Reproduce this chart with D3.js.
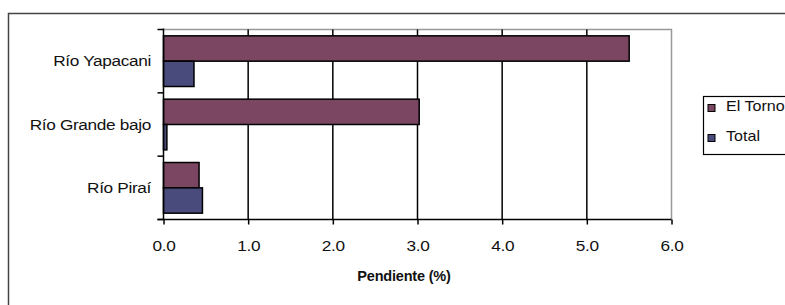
<!DOCTYPE html>
<html>
<head>
<meta charset="utf-8">
<script src="https://cdn.jsdelivr.net/npm/d3@7"></script>
<style>
  body { margin: 0; background: #fff; }
  svg { display: block; font-family: "Liberation Sans", Arial, sans-serif; }
</style>
</head>
<body>
<svg width="785" height="305"></svg>
<script>
// data
var categories = ["Río Yapacani", "Río Grande bajo", "Río Piraí"];
var seriesNames = ["El Torno", "Total"];
var elTorno = [5.50, 3.02, 0.42];
var total = [0.36, 0.04, 0.46];
var xTicks = [0, 1, 2, 3, 4, 5, 6];
var colors = ["#7a4662", "#494b7c"];

var svg = d3.select("svg");
var plotL = 163.5, plotR = 671.5, plotT = 29.5, plotB = 219.5;
var sx = 1.15; // glyphs in the picture look stretched wide

// outer chart border
svg.append("rect")
    .attr("x", 8.5).attr("y", 13.5)
    .attr("width", 800).attr("height", 320)
    .attr("fill", "none").attr("stroke", "#444").attr("stroke-width", 1.5);

var x = d3.scaleLinear().domain([0, 6]).range([plotL, plotR]);
var y = d3.scaleBand().domain(categories).range([plotT, plotB])
    .paddingInner(0.2).paddingOuter(0.1);
var ySub = d3.scaleBand().domain(seriesNames).range([0, y.bandwidth()]);

// plot frame top / right in grey
svg.append("path")
    .attr("d", "M" + plotL + "," + plotT + "H" + plotR + "V" + plotB)
    .attr("fill", "none").attr("stroke", "#999").attr("stroke-width", 1.5);

// vertical gridlines
svg.selectAll(".grid").data(xTicks.slice(1, -1)).enter().append("line")
    .attr("x1", function(d){ return x(d); }).attr("x2", function(d){ return x(d); })
    .attr("y1", plotT).attr("y2", plotB)
    .attr("stroke", "#000").attr("stroke-width", 1.5);

// bars
var rows = categories.map(function(c, i){
    return { cat: c, values: [elTorno[i], total[i]] };
});
var g = svg.selectAll(".row").data(rows).enter().append("g")
    .attr("transform", function(d){ return "translate(0," + y(d.cat) + ")"; });
g.selectAll("rect").data(function(d){
        return d.values.map(function(v, j){ return { name: seriesNames[j], v: v, j: j }; });
    }).enter().append("rect")
    .attr("x", x(0))
    .attr("y", function(d){ return ySub(d.name); })
    .attr("width", function(d){ return x(d.v) - x(0); })
    .attr("height", ySub.bandwidth())
    .attr("fill", function(d){ return colors[d.j]; })
    .attr("stroke", "#000").attr("stroke-width", 1.5);

// bottom axis
var xAxis = svg.append("g")
    .attr("transform", "translate(0," + plotB + ")")
    .call(d3.axisBottom(x).tickValues(xTicks).tickFormat(d3.format(".1f"))
        .tickSize(5).tickSizeOuter(0));
xAxis.select(".domain").attr("stroke", "#000").attr("stroke-width", 1.5)
    .attr("d", "M" + (plotL - 6) + ",0H" + plotR);
xAxis.selectAll(".tick line").attr("stroke", "#000").attr("stroke-width", 1.5);
xAxis.selectAll(".tick text")
    .attr("font-size", 15).attr("fill", "#111").attr("y", 0).attr("dy", 0)
    .attr("transform", "translate(0,31) scale(" + sx + ",1)")
    .attr("letter-spacing", -0.3)
    .attr("font-family", "Liberation Sans, Arial, sans-serif");

// left axis line and category boundary ticks
svg.append("line")
    .attr("x1", plotL).attr("x2", plotL).attr("y1", plotT - 1).attr("y2", plotB)
    .attr("stroke", "#000").attr("stroke-width", 1.5);
var bounds = categories.map(function(c){ return y(c) - y.step() * 0.1; }).concat([plotB]);
svg.selectAll(".ytick").data(bounds).enter().append("line")
    .attr("x1", plotL - 6).attr("x2", plotL)
    .attr("y1", function(d){ return d; }).attr("y2", function(d){ return d; })
    .attr("stroke", "#000").attr("stroke-width", 1.5);

svg.selectAll(".ylab").data(categories).enter().append("text")
    .attr("transform", function(d){
        return "translate(151," + (y(d) + y.bandwidth() / 2 + 5) + ") scale(" + sx + ",1)";
    })
    .attr("text-anchor", "end")
    .attr("font-size", 15).attr("letter-spacing", -0.3).attr("fill", "#111")
    .text(function(d){ return d; });

// axis title
svg.append("text")
    .attr("x", 404).attr("y", 281)
    .attr("text-anchor", "middle")
    .attr("font-size", 14.5).attr("font-weight", "bold").attr("fill", "#111")
    .attr("letter-spacing", -0.2)
    .text("Pendiente (%)");

// legend
var lg = svg.append("g").attr("transform", "translate(703,96)");
lg.append("rect").attr("x", 0.5).attr("y", 0.5).attr("width", 120).attr("height", 58)
    .attr("fill", "#fff").attr("stroke", "#000").attr("stroke-width", 1.2);
var items = lg.selectAll(".item").data(seriesNames).enter().append("g")
    .attr("transform", function(d, i){ return "translate(0," + (i * 30) + ")"; });
items.append("rect")
    .attr("x", 5).attr("y", 8.5).attr("width", 7).attr("height", 7)
    .attr("fill", function(d, i){ return colors[i]; })
    .attr("stroke", "#000").attr("stroke-width", 1);
items.append("text")
    .attr("transform", "translate(23,15) scale(" + sx + ",1)")
    .attr("font-size", 14).attr("letter-spacing", 0).attr("fill", "#111")
    .text(function(d){ return d; });
</script>
</body>
</html>
